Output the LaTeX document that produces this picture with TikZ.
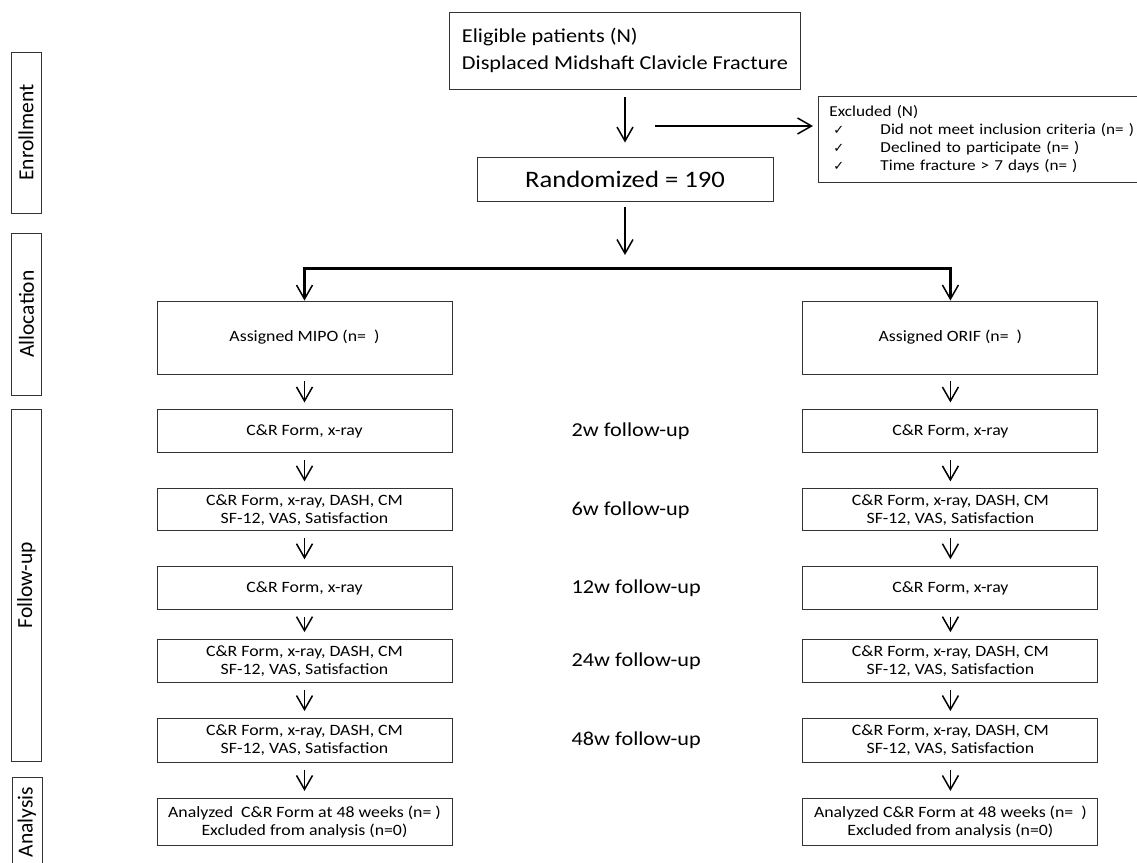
\documentclass[tikz,border=0pt]{standalone}
\usepackage{fontspec}
\setmainfont{Carlito}[FakeStretch=1.13]
\newfontfamily\sidefont{Carlito}
\newfontfamily\tickfont{DejaVu Sans}
\usetikzlibrary{positioning}
\usetikzlibrary{arrows.meta}
\newcommand{\okmark}{\makebox[51pt][l]{\hspace{4pt}{\tickfont\fontsize{13}{13}\selectfont ✓}}}
\tikzstyle{box} = [draw=black!80, line width=0.9pt, minimum width=295pt, align=center, inner sep=2pt, font=\fontsize{15.75}{18}\selectfont]
\tikzstyle{phase} = [draw=black!80, line width=0.9pt, rotate=90, minimum height=30pt, inner sep=0pt, font=\sidefont\fontsize{21.5}{21.5}\selectfont]
\tikzstyle{arr} = [-{Straight Barb[length=14pt,width=16pt]}, line width=1.5pt, shorten <=7pt, shorten >=7pt]
\tikzstyle{branch} = [{Straight Barb[length=14pt,width=16pt,line width=1.5pt]}-{Straight Barb[length=14pt,width=16pt,line width=1.5pt]}, line width=2.4pt]
\tikzstyle{fu} = [font=\fontsize{19.7}{24}\selectfont, inner sep=0pt]

\begin{document}
\begin{tikzpicture}[x=1pt, y=-1pt, node distance=35pt]
\useasboundingbox (0,0) rectangle (1137,862);

% Phases
\node[phase, minimum width=161pt] (enrol)  at (26,132.5) {Enrollment};
\node[phase, minimum width=162pt] (alloc)  at (26.5,314) {Allocation};
\node[phase, minimum width=352pt] (follow) at (26.5,585) {Follow-up};
\node[phase, minimum width=90pt]  (analys) at (27,822)   {Analysis};

% Enrollment
\node[box, minimum width=351pt, minimum height=77pt, align=left, font=\fontsize{19.7}{27}\selectfont] (elig) at (625,50.5) {Eligible patients (N)\\Displaced Midshaft Clavicle Fracture};
\node[box, minimum width=296pt, minimum height=44pt, font=\fontsize{23.6}{28}\selectfont] (rand) at (625,179) {Randomized = 190};
\node[box, anchor=north west, text width=335pt, minimum height=86pt, align=left, inner xsep=11pt, font=\fontsize{15.2}{18}\selectfont] (excl) at (818,96)
  {Excluded (N)\\
   \okmark Did not meet inclusion criteria (n= )\\
   \okmark Declined to participate (n= )\\
   \okmark Time fracture > 7 days (n= )};

\coordinate (exfrom) at (655,126);
\coordinate (split)  at (625,255);

% Allocation
\node[box, minimum height=73pt] (assignL) at (304.5,337.5) {Assigned MIPO (n=\ \ )};
\node[box, minimum height=73pt, right=350pt of assignL] (assignR) {Assigned ORIF (n=\ \ )};

% Follow-up
\node[box, minimum height=43pt, below=of assignL]    (wk2L)  {C\&R Form, x-ray};
\node[box, minimum height=42pt, below=of wk2L]       (wk6L)  {C\&R Form, x-ray, DASH, CM\\SF-12, VAS, Satisfaction};
\node[box, minimum height=43pt, below=of wk6L]       (wk12L) {C\&R Form, x-ray};
\node[box, minimum height=43pt, below=29pt of wk12L] (wk24L) {C\&R Form, x-ray, DASH, CM\\SF-12, VAS, Satisfaction};
\node[box, minimum height=44pt, below=of wk24L]      (wk48L) {C\&R Form, x-ray, DASH, CM\\SF-12, VAS, Satisfaction};

\node[box, minimum height=43pt, right=350pt of wk2L]  (wk2R)  {C\&R Form, x-ray};
\node[box, minimum height=42pt, right=350pt of wk6L]  (wk6R)  {C\&R Form, x-ray, DASH, CM\\SF-12, VAS, Satisfaction};
\node[box, minimum height=43pt, right=350pt of wk12L] (wk12R) {C\&R Form, x-ray};
\node[box, minimum height=43pt, right=350pt of wk24L] (wk24R) {C\&R Form, x-ray, DASH, CM\\SF-12, VAS, Satisfaction};
\node[box, minimum height=44pt, right=350pt of wk48L] (wk48R) {C\&R Form, x-ray, DASH, CM\\SF-12, VAS, Satisfaction};

\node[fu, right=119pt of wk2L]  (lab2)  {2w follow-up};
\node[fu, right=119pt of wk6L]  (lab6)  {6w follow-up};
\node[fu, right=119pt of wk12L] (lab12) {12w follow-up};
\node[fu, right=119pt of wk24L] (lab24) {24w follow-up};
\node[fu, right=119pt of wk48L] (lab48) {48w follow-up};

% Analysis
\node[box, minimum height=47pt, below=of wk48L] (anaL) {Analyzed~ C\&R Form at 48 weeks (n= )\\Excluded from analysis (n=0)};
\node[box, minimum height=47pt, below=of wk48R] (anaR) {Analyzed C\&R Form at 48 weeks (n=\ \ )\\Excluded from analysis (n=0)};

% Edges
\draw[arr, shorten <=8pt, shorten >=14pt] (elig) -- (rand);
\draw[arr, shorten <=0pt, shorten >=5pt] (exfrom) -- (exfrom -| excl.west);
\draw[arr, shorten <=6pt, shorten >=0pt] (rand) -- (split);
\draw[branch] (assignL.north) -- ++(0,-32) -| (assignR.north);
\foreach \s in {L,R}{
  \foreach \a/\b in {assign/wk2, wk2/wk6, wk6/wk12, wk12/wk24, wk24/wk48, wk48/ana}
    \draw[arr] (\a\s) -- (\b\s);
}

\end{tikzpicture}
\end{document}
